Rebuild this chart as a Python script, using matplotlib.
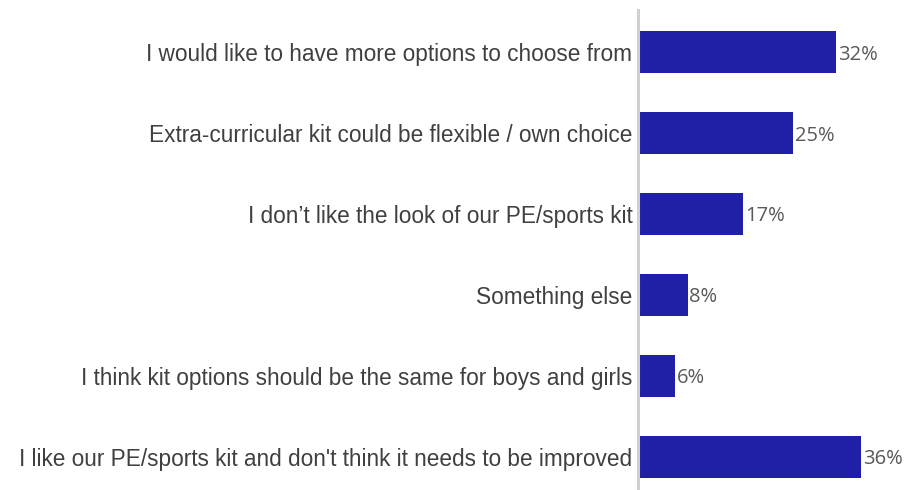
import matplotlib
matplotlib.use("Agg")
import matplotlib.pyplot as plt

categories = [
    "I would like to have more options to choose from",
    "Extra-curricular kit could be flexible / own choice",
    "I don\u2019t like the look of our PE/sports kit",
    "Something else",
    "I think kit options should be the same for boys and girls",
    "I like our PE/sports kit and don't think it needs to be improved",
]
values = [32, 25, 17, 8, 6, 36]
value_labels = ["32%", "25%", "17%", "8%", "6%", "36%"]

fig = plt.figure(figsize=(9.07, 4.90), dpi=100)
ax = fig.add_axes([638/907, 0, 269/907, 480/490])

ypos = list(range(len(categories)))
ax.barh(ypos, values, height=0.52, color="#1f20a6", left=0)
ax.set_xlim(0, 269/6.19)
ax.set_ylim(5.41, -0.52)

for y, v, lab in zip(ypos, values, value_labels):
    ax.text(v + 0.3, y, lab, va="center_baseline", ha="left", fontsize=14.5,
            color="#595959", family="Open Sans")

ax.set_yticks(ypos)
ax.set_yticklabels(categories, fontsize=16.3, color="#404040", family="Liberation Sans")
ax.tick_params(axis="y", length=0, pad=4)
ax.set_xticks([])
for s in ["top", "right", "bottom"]:
    ax.spines[s].set_visible(False)
ax.spines["left"].set_color("#d0d0d0")
ax.spines["left"].set_linewidth(2.2)

fig.savefig("out.png", dpi=100)
